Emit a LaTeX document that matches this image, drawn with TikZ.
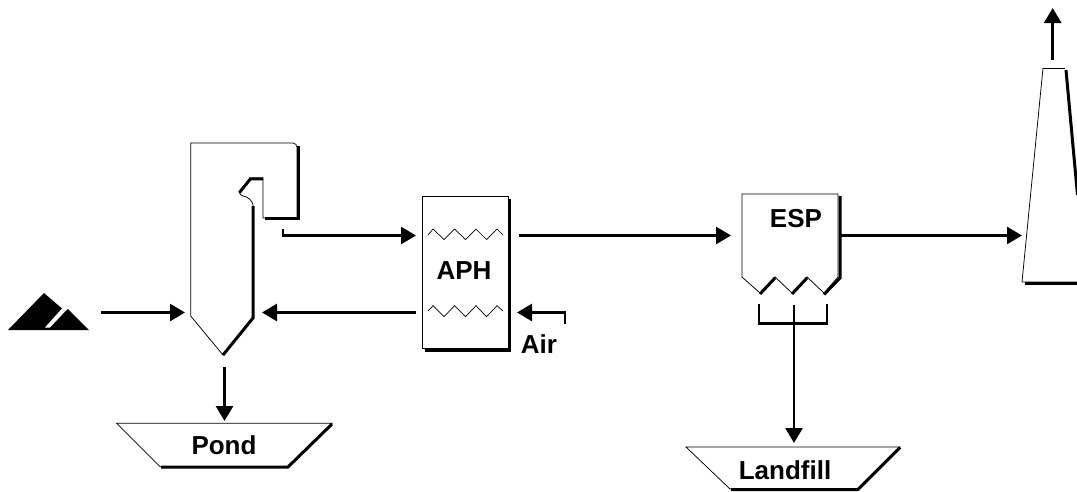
\documentclass[tikz,border=0pt]{standalone}
\usepackage{fontspec}
\setmainfont{Liberation Sans}
\usetikzlibrary{arrows.meta}
\tikzset{
  x=1pt,y=-1pt,
  thin outline/.style={draw=black,line width=0.75pt,line join=miter},
  heavy/.style={draw=black,line width=3pt,line cap=butt,line join=miter},
  flow/.style={draw=black,line width=2.7pt,-{Triangle[length=15pt,width=17pt]}},
  branch/.style={draw=black,line width=2.7pt},
  coil/.style={draw=black,line width=0.7pt,line join=miter},
  lbl/.style={font=\fontsize{26}{30}\selectfont\bfseries,anchor=base,inner sep=0pt,outer sep=0pt,text=black}
}
\begin{document}
\begin{tikzpicture}
\useasboundingbox (0,0) rectangle (1077,491);
\clip (0,0) rectangle (1077,491);

% coal pile
\fill[black] (8,330) -- (44,293) -- (62,308.5) -- (65,311.5) -- (68,309) -- (89,330) -- cycle;
\fill[white] (62,308.5) -- (65,311.5) -- (50,327.5) -- (45,327.5) -- cycle;

% boiler
\draw[thin outline] (253,205) .. controls (253,201) and (247,196) .. (243,196)
  .. controls (241,196) and (240,194) .. (239,192) -- (250,178) -- (263,178) -- (263,218) -- (297,218)
  -- (297,147) .. controls (297,145) and (295,143) .. (293,143) -- (190.7,143) -- (190.7,316) -- (223,355) -- (253,318) -- cycle;
\draw[heavy] (298.7,146) -- (298.7,218.7) -- (265,218.7);
\draw[heavy] (239.5,192.5) -- (250.5,178.8) -- (263,178.8);
\draw[heavy] (253,206) -- (253,318) -- (223,355);

% air preheater
\draw[thin outline] (422.7,196.7) rectangle (508,348);
\draw[heavy] (509.5,199) -- (509.5,350) -- (425,350);
\draw[coil] (428,235) -- (433,229) -- (444,239.5) -- (454.5,229) -- (465.5,239.5) -- (476,229) -- (486.5,239.5) -- (497,229) -- (503,235);
\draw[coil] (428,311) -- (433,305.7) -- (444,316.7) -- (454.5,305.7) -- (465.5,316.7) -- (476,305.7) -- (486.5,316.7) -- (497,305.7) -- (503,311);
\node[lbl] (aph) at (464,279) {APH};

% ESP
\draw[thin outline] (742,194) -- (838,194) -- (838,277) -- (824,293) -- (807,277) -- (792,293) -- (775,277) -- (760,293) -- (742,277) -- cycle;
\draw[heavy] (840,196) -- (840,278) -- (824,294.5);
\draw[heavy] (807,278) -- (792,294);
\draw[heavy] (775,278) -- (760,294);
\node[lbl] (esp) at (796,227) {ESP};

% stack
\draw[thin outline] (1043,68) -- (1065,68);
\draw[thin outline] (1043,68) -- (1022,282) -- (1077,282);
\draw[heavy] (1066,70) -- (1077.5,195);
\draw[draw=black,line width=3pt] (1025,283.5) -- (1078,283.5);

% pond
\draw[thin outline] (116.7,423.3) -- (332,423.3) -- (288,466.7) -- (160,466.7) -- cycle;
\draw[heavy] (332,424) -- (288,467) -- (161,467);
\node[lbl] (pond) at (224,454) {Pond};

% landfill
\draw[thin outline] (686,447) -- (900,447) -- (857,489) -- (730,489) -- cycle;
\draw[heavy] (900,447.5) -- (858,489.5) -- (731,489.5);
\node[lbl] (landfill) at (785,479) {Landfill};

% air label
\node[lbl] (air) at (539,353) {Air};

% connector end points
\coordinate (coalout) at (101,312.5);
\coordinate (boilerin) at (185,312.5);
\coordinate (aphback) at (416,312.5);
\coordinate (boilerback) at (262,312.5);
\coordinate (gasstart) at (283,229);
\coordinate (gascorner) at (283,235.5);
\coordinate (aphin) at (416,235.5);
\coordinate (aphout) at (519,235.5);
\coordinate (espin) at (731,235.5);
\coordinate (espout) at (841,235.5);
\coordinate (stackin) at (1022,235.5);
\coordinate (stackout) at (1052.7,60);
\coordinate (stacktop) at (1052.7,8);
\coordinate (ashout) at (224.5,367);
\coordinate (pondin) at (224.5,421);
\coordinate (airstart) at (565,324);
\coordinate (aircorner) at (565,312.5);
\coordinate (aphair) at (517,312.5);
\coordinate (hopl) at (759,304);
\coordinate (hoplc) at (759,323.5);
\coordinate (hopr) at (827,304);
\coordinate (hoprc) at (827,323.5);
\coordinate (hopm) at (794,305);
\coordinate (landin) at (794,443);

% connectors
\draw[flow] (coalout) -- (boilerin);
\draw[flow] (aphback) -- (boilerback);
\draw[flow] (gasstart) -- (gascorner) -- (aphin);
\draw[flow] (aphout) -- (espin);
\draw[flow] (espout) -- (stackin);
\draw[flow] (stackout) -- (stacktop);
\draw[flow] (ashout) -- (pondin);
\draw[flow] (airstart) -- (aircorner) -- (aphair);
\draw[branch] (hopl) -- (hoplc) -- (hoprc) -- (hopr);
\draw[flow] (hopm) -- (landin);
\end{tikzpicture}
\end{document}
